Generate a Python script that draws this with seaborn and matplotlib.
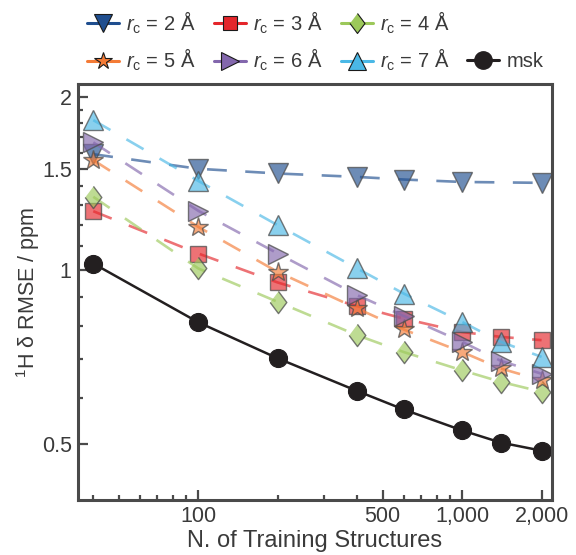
import numpy as np
import pandas as pd
import matplotlib
matplotlib.use("Agg")
import matplotlib.pyplot as plt
import seaborn as sns
from matplotlib.lines import Line2D
from matplotlib.ticker import FixedLocator, NullFormatter
from matplotlib.colors import to_rgba

# ================================================================================
# Data
# ================================================================================
n_train     = [40, 100, 200, 400, 600, 1000, 1400, 2000]
n_train_rc2 = [40, 100, 200, 400, 600, 1000, 2000]

rmse_rc2 = [1.59, 1.50, 1.472, 1.452, 1.437, 1.423, 1.418]
rmse_rc3 = [1.266, 1.069, 0.952, 0.866, 0.824, 0.781, 0.766, 0.756]
rmse_rc4 = [1.341, 1.007, 0.881, 0.771, 0.721, 0.670, 0.640, 0.615]
rmse_rc5 = [1.553, 1.189, 0.993, 0.858, 0.789, 0.721, 0.675, 0.644]
rmse_rc6 = [1.667, 1.268, 1.069, 0.905, 0.833, 0.751, 0.696, 0.661]
rmse_rc7 = [1.822, 1.429, 1.197, 1.007, 0.911, 0.813, 0.751, 0.707]
rmse_msk = [1.027, 0.812, 0.703, 0.617, 0.573, 0.527, 0.502, 0.486]

labels = [r"$r_{\mathrm{c}}$ = 2 Å", r"$r_{\mathrm{c}}$ = 3 Å", r"$r_{\mathrm{c}}$ = 4 Å",
          r"$r_{\mathrm{c}}$ = 5 Å", r"$r_{\mathrm{c}}$ = 6 Å", r"$r_{\mathrm{c}}$ = 7 Å", "msk"]

x_ticks       = [100, 500, 1000, 2000]
x_tick_labels = ["100", "500", "1,000", "2,000"]
y_ticks       = [0.5, 1, 1.5, 2]
y_tick_labels = ["0.5", "1", "1.5", "2"]

# ================================================================================
# Style
# ================================================================================
sns.set_style("ticks")
plt.rcParams["font.family"]      = ["Liberation Sans", "DejaVu Sans"]
plt.rcParams["mathtext.fontset"] = "custom"
plt.rcParams["mathtext.rm"]      = "Liberation Sans"
plt.rcParams["mathtext.it"]      = "Liberation Sans:italic"

text_col  = "#3a3a3a"
spine_col = "#4a4a4a"
leg_fs    = 14.5

series = [
    # x,           y,        color,     marker,                                 ms
    (n_train_rc2, rmse_rc2, "#1f4e8f", "v",                                     14.5),
    (n_train,     rmse_rc3, "#e4262b", "s",                                     11.0),
    (n_train,     rmse_rc4, "#9cc85a", [(0, 1), (0.75, 0), (0, -1), (-0.75, 0)], 16.0),
    (n_train,     rmse_rc5, "#f47b36", "*",                                     14.5),
    (n_train,     rmse_rc6, "#8367ad", ">",                                     14.0),
    (n_train,     rmse_rc7, "#4ab8e6", "^",                                     14.5),
]

fig = plt.figure(figsize=(5.76, 5.55), dpi=100)
ax  = fig.add_axes([0.1354, 0.0991, 0.8229, 0.7495])

# --------------------------------------------------------------------------------
# Dashed series (semi-transparent)
# --------------------------------------------------------------------------------
handles = []
for (xs, ys, col, mk, ms), lab in zip(series, labels):
    df = pd.DataFrame({"n": xs, "rmse": ys})
    sns.lineplot(
        data=df, x="n", y="rmse", ax=ax, color=to_rgba(col, 0.65),
        linestyle=(0, (7.5, 7.0)), linewidth=1.9,
        marker=mk, markersize=ms,
        markerfacecolor=to_rgba(col, 0.65), markeredgecolor=(0.3, 0.3, 0.3, 0.75),
        markeredgewidth=1.0,
    )
    handles.append(Line2D([], [], color=col, lw=2.2, marker=mk, markersize=ms * 0.9,
                          markerfacecolor=col, markeredgecolor="#1a1a1a", markeredgewidth=0.8))

# --------------------------------------------------------------------------------
# msk (solid black)
# --------------------------------------------------------------------------------
df_msk = pd.DataFrame({"n": n_train, "rmse": rmse_msk})
sns.lineplot(
    data=df_msk, x="n", y="rmse", ax=ax, color="#231f20", linewidth=1.8,
    marker="o", markersize=13, markerfacecolor="#231f20",
    markeredgecolor="#231f20", markeredgewidth=0.8,
)
msk_handle = Line2D([], [], color="#231f20", lw=2.2, marker="o", markersize=12.5,
                    markerfacecolor="#231f20", markeredgecolor="#231f20")

# --------------------------------------------------------------------------------
# Axes
# --------------------------------------------------------------------------------
ax.set_xscale("log")
ax.set_yscale("log")
ax.set_xlim(35, 2190)
ax.set_ylim(0.399, 2.105)

ax.xaxis.set_major_locator(FixedLocator(x_ticks))
ax.set_xticklabels(x_tick_labels)
ax.xaxis.set_minor_locator(FixedLocator([40, 50, 60, 70, 80, 90, 200, 300, 400,
                                         600, 700, 800, 900]))
ax.xaxis.set_minor_formatter(NullFormatter())

ax.yaxis.set_major_locator(FixedLocator(y_ticks))
ax.set_yticklabels(y_tick_labels)
ax.yaxis.set_minor_locator(FixedLocator([0.6, 0.7, 0.8, 0.9, 1.1, 1.2, 1.3, 1.4,
                                         1.6, 1.7, 1.8, 1.9]))
ax.yaxis.set_minor_formatter(NullFormatter())

ax.tick_params(which="both", direction="in", color=spine_col, width=1.6,
               labelsize=15.5, labelcolor=text_col, top=False, right=False)
ax.tick_params(which="major", length=7, pad=4.5)
ax.tick_params(which="minor", length=3.5)

for sp in ax.spines.values():
    sp.set_color(spine_col)
    sp.set_linewidth(2.2)

ax.set_xlabel("N. of Training Structures", fontsize=17, color=text_col, labelpad=2)
ax.set_ylabel(r"$^{1}$H δ RMSE / ppm", fontsize=15.5, color=text_col, labelpad=0)

# --------------------------------------------------------------------------------
# Legend: six r_c entries in 3 columns, msk on its own in the 4th slot
# --------------------------------------------------------------------------------
order = [0, 3, 1, 4, 2, 5]
leg_kw = dict(frameon=False, fontsize=leg_fs, handlelength=1.6, handletextpad=0.35,
              columnspacing=0.9, labelspacing=0.55, borderaxespad=0.0, borderpad=0.0)
leg = ax.legend([handles[i] for i in order], [labels[i] for i in order], ncol=3,
                loc="lower left", bbox_to_anchor=(0.019, 1.026), **leg_kw)
for t in leg.get_texts():
    t.set_color(text_col)
ax.add_artist(leg)

leg2 = ax.legend([msk_handle], [labels[6]], loc="lower left",
                 bbox_to_anchor=(0.821, 1.032), **leg_kw)
for t in leg2.get_texts():
    t.set_color(text_col)

fig.savefig("out.png", dpi=100)
